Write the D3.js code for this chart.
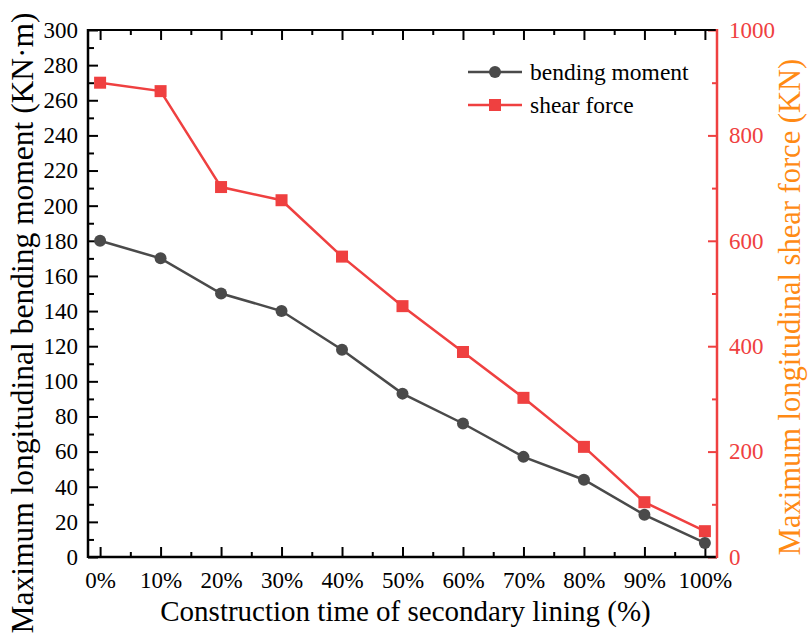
<!DOCTYPE html>
<html>
<head>
<meta charset="utf-8">
<script src="https://cdn.jsdelivr.net/npm/d3@7"></script>
<style>
  body { margin: 0; background: #fff; }
  svg { display: block; font-family: "Liberation Serif", "Times New Roman", serif; }
</style>
</head>
<body>
<div id="chart"></div>
<script>
// construction progress of the secondary lining
var stages = ['0%', '10%', '20%', '30%', '40%', '50%', '60%', '70%', '80%', '90%', '100%'];
// maximum longitudinal bending moment, KN·m
var bendingMoment = [180, 170, 150, 140, 118, 93, 76, 57, 44, 24, 8];
// maximum longitudinal shear force, KN
var shearForce = [900, 884, 702, 677, 570, 476, 389, 302, 209, 104, 49];

var leftTicks = d3.range(0, 301, 20);
var rightTicks = [0, 200, 400, 600, 800, 1000];

var W = 808, H = 636;
var m = { left: 88, right: 717, top: 30, bottom: 557 };

var grey = '#4a4a4a', red = '#ef4040', orange = '#ff8a14';

var svg = d3.select('#chart').append('svg')
    .attr('width', W)
    .attr('height', H);

var x = d3.scaleLinear().domain([-0.2, stages.length - 1 + 0.2]).range([m.left, m.right]);
var yL = d3.scaleLinear().domain([0, 300]).range([m.bottom, m.top]);
var yR = d3.scaleLinear().domain([0, 1000]).range([m.bottom, m.top]);

// minor positions halfway between the stages
var xMinor = d3.range(0.5, stages.length - 1, 1);

function styleAxis(g, color) {
  g.attr('font-family', null).attr('font-size', null);
  g.select('.domain').remove();
  g.selectAll('line').attr('stroke', color).attr('stroke-width', 2);
  g.selectAll('text').attr('fill', color).style('font-size', '23px');
}

// bottom axis with labels, ticks point inward
svg.append('g').attr('transform', 'translate(0,' + m.bottom + ')')
    .call(d3.axisBottom(x).tickValues(d3.range(stages.length))
      .tickFormat(function(d) { return stages[d]; })
      .tickSizeInner(-10).tickSizeOuter(0).tickPadding(15))
    .call(styleAxis, '#000');
svg.append('g').attr('transform', 'translate(0,' + m.bottom + ')')
    .call(d3.axisBottom(x).tickValues(xMinor).tickFormat('').tickSizeInner(-5).tickSizeOuter(0))
    .call(styleAxis, '#000');

// top border with ticks only
svg.append('g').attr('transform', 'translate(0,' + m.top + ')')
    .call(d3.axisTop(x).tickValues(d3.range(stages.length)).tickFormat('').tickSizeInner(-10).tickSizeOuter(0))
    .call(styleAxis, '#000');
svg.append('g').attr('transform', 'translate(0,' + m.top + ')')
    .call(d3.axisTop(x).tickValues(xMinor).tickFormat('').tickSizeInner(-5).tickSizeOuter(0))
    .call(styleAxis, '#000');

// left axis
svg.append('g').attr('transform', 'translate(' + m.left + ',0)')
    .call(d3.axisLeft(yL).tickValues(leftTicks).tickSizeInner(-10).tickSizeOuter(0).tickPadding(10))
    .call(styleAxis, '#000');
svg.append('g').attr('transform', 'translate(' + m.left + ',0)')
    .call(d3.axisLeft(yL).tickValues(d3.range(10, 300, 20)).tickFormat('').tickSizeInner(-6).tickSizeOuter(0))
    .call(styleAxis, '#000');

// right axis in red
svg.append('g').attr('transform', 'translate(' + m.right + ',0)')
    .call(d3.axisRight(yR).tickValues(rightTicks).tickFormat(d3.format('d'))
      .tickSizeInner(-9).tickSizeOuter(0).tickPadding(12))
    .call(styleAxis, red);
svg.append('g').attr('transform', 'translate(' + m.right + ',0)')
    .call(d3.axisRight(yR).tickValues(d3.range(100, 1000, 200)).tickFormat('').tickSizeInner(-5).tickSizeOuter(0))
    .call(styleAxis, red);

// frame lines
svg.append('line').attr('x1', m.left).attr('x2', m.right).attr('y1', m.top).attr('y2', m.top)
    .attr('stroke', '#000').attr('stroke-width', 2);
svg.append('line').attr('x1', m.left).attr('x2', m.right).attr('y1', m.bottom).attr('y2', m.bottom)
    .attr('stroke', '#000').attr('stroke-width', 2.5);
svg.append('line').attr('x1', m.left).attr('x2', m.left).attr('y1', m.top - 1).attr('y2', m.bottom + 1)
    .attr('stroke', '#000').attr('stroke-width', 2.5);
svg.append('line').attr('x1', m.right).attr('x2', m.right).attr('y1', m.top - 1).attr('y2', m.bottom + 1)
    .attr('stroke', red).attr('stroke-width', 2.5);

// series
var lineL = d3.line().x(function(d, i) { return x(i); }).y(function(d) { return yL(d); });
var lineR = d3.line().x(function(d, i) { return x(i); }).y(function(d) { return yR(d); });

svg.append('path').datum(shearForce).attr('d', lineR)
    .attr('fill', 'none').attr('stroke', red).attr('stroke-width', 2.5);
svg.selectAll('rect.sf').data(shearForce).enter().append('rect')
    .attr('class', 'sf')
    .attr('x', function(d, i) { return x(i) - 6; })
    .attr('y', function(d) { return yR(d) - 6; })
    .attr('width', 12).attr('height', 12)
    .attr('fill', red);

svg.append('path').datum(bendingMoment).attr('d', lineL)
    .attr('fill', 'none').attr('stroke', grey).attr('stroke-width', 2.5);
svg.selectAll('circle.bm').data(bendingMoment).enter().append('circle')
    .attr('class', 'bm')
    .attr('cx', function(d, i) { return x(i); })
    .attr('cy', function(d) { return yL(d); })
    .attr('r', 6)
    .attr('fill', grey);

// axis titles
svg.append('text')
    .attr('x', (x(0) + x(stages.length - 1)) / 2 + 3).attr('y', 621)
    .attr('text-anchor', 'middle').style('font-size', '29px')
    .text('Construction time of secondary lining (%)');

svg.append('text')
    .attr('transform', 'translate(33,323) rotate(-90)')
    .attr('text-anchor', 'middle').style('font-size', '31.5px')
    .text('Maximum longitudinal bending moment (KN·m)');

svg.append('text')
    .attr('transform', 'translate(800,307) rotate(-90)')
    .attr('text-anchor', 'middle').style('font-size', '30.5px')
    .attr('fill', orange)
    .text('Maximum longitudinal shear force (KN)');

// legend
var legend = [
  { name: 'bending moment', color: grey, shape: 'circle' },
  { name: 'shear force', color: red, shape: 'square' }
];
var lg = svg.selectAll('g.legend').data(legend).enter().append('g')
    .attr('class', 'legend')
    .attr('transform', function(d, i) { return 'translate(468,' + (72 + i * 33) + ')'; });
lg.append('line').attr('x1', 0).attr('x2', 54).attr('y1', 0).attr('y2', 0)
    .attr('stroke', function(d) { return d.color; }).attr('stroke-width', 2.5);
lg.each(function(d) {
  var g = d3.select(this);
  if (d.shape === 'circle') {
    g.append('circle').attr('cx', 27).attr('cy', 0).attr('r', 6).attr('fill', d.color);
  } else {
    g.append('rect').attr('x', 21).attr('y', -6).attr('width', 12).attr('height', 12).attr('fill', d.color);
  }
});
lg.append('text').attr('x', 62).attr('y', 8).style('font-size', '23.5px')
    .text(function(d) { return d.name; });
</script>
</body>
</html>
